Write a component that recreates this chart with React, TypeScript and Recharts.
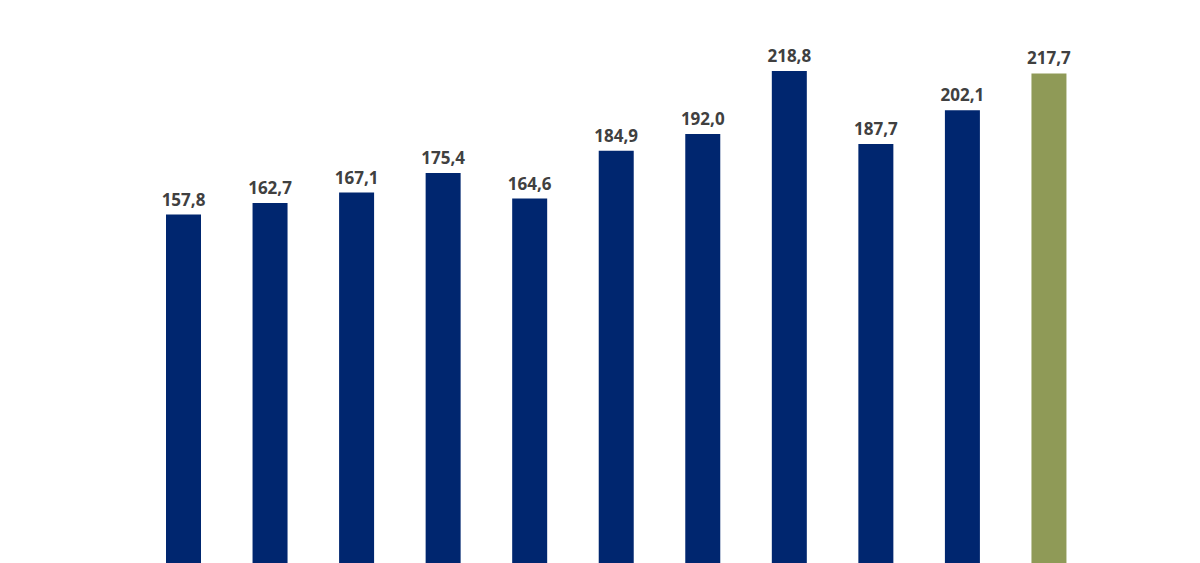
import { BarChart, Bar, XAxis, YAxis, LabelList, Cell } from "recharts";

const categories = ["1", "2", "3", "4", "5", "6", "7", "8", "9", "10", "11"];
const values = [157.8, 162.7, 167.1, 175.4, 164.6, 184.9, 192.0, 218.8, 187.7, 202.1, 217.7];
const highlightIndex = 10;

const data = categories.map((c, i) => ({ name: c, value: values[i] }));

const NAVY = "#00266f";
const OLIVE = "#8f9a57";

const fmt = (v: any) => Number(v).toFixed(1).replace(".", ",");

export default function App() {
  return (
    <div style={{ position: "fixed", left: 0, top: 0, width: 1200, height: 563, overflow: "hidden", background: "#fff" }}>
      <BarChart
        width={1200}
        height={590}
        data={data}
        margin={{ top: 21, right: 108, left: 140, bottom: 4 }}
      >
        <XAxis dataKey="name" hide />
        <YAxis domain={[0, 240]} hide />
        <Bar dataKey="value" barSize={35} isAnimationActive={false}>
          {data.map((d, i) => (
            <Cell key={d.name} fill={i === highlightIndex ? OLIVE : NAVY} />
          ))}
          <LabelList
            dataKey="value"
            position="top"
            offset={9}
            formatter={fmt}
            style={{ fontFamily: "'Open Sans', sans-serif", fontWeight: 700, fontSize: 17, fill: "#404040" }}
          />
        </Bar>
      </BarChart>
    </div>
  );
}
